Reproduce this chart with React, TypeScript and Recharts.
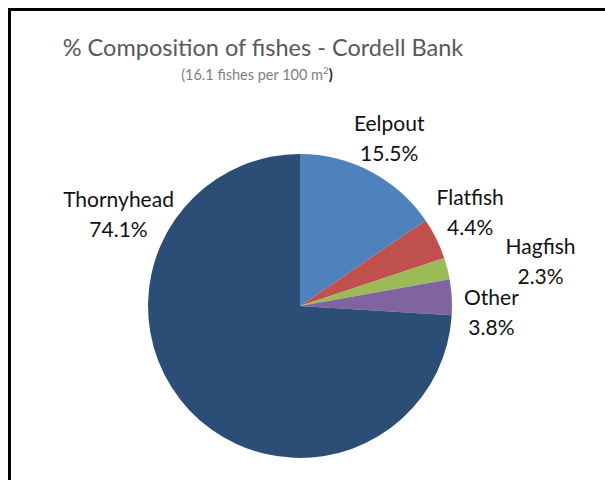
import React from 'react';
import { PieChart, Pie, Cell } from 'recharts';

const categories = ['Eelpout', 'Flatfish', 'Hagfish', 'Other', 'Thornyhead'];
const percents = [15.5, 4.4, 2.3, 3.8, 74.1];
const colors = ['#4F81BD', '#C0504D', '#9BBB59', '#8064A2', '#2C4D75'];
// label placement: polar angle (deg) and distance factor relative to outer radius
const labelAngles = [62, 29, 10.6, -1.8, 153];
const labelDist = [1.25, 1.28, 1.61, 1.26, 1.34];

const data = categories.map((name, i) => ({ name, value: percents[i] }));

const FONT = 'Lato, "Open Sans", sans-serif';

const renderLabel = (props: any) => {
  const { cx, cy, outerRadius, index } = props;
  const a = (labelAngles[index] * Math.PI) / 180;
  const r = outerRadius * labelDist[index];
  const x = cx + r * Math.cos(a);
  const y = cy - r * Math.sin(a);
  return (
    <text x={x} y={y} textAnchor="middle" fontFamily={FONT} fontSize={21} fill="#111">
      <tspan x={x} dy={-7}>{categories[index]}</tspan>
      <tspan x={x} dy={30}>{percents[index].toFixed(1)}%</tspan>
    </text>
  );
};

export default function App() {
  return (
    <div style={{ position: 'absolute', left: 0, top: 0, width: 605, height: 480, background: '#fff', overflow: 'hidden' }}>
      <div style={{ position: 'absolute', left: 8, top: 8, width: 700, height: 600, border: '3px solid #000', boxSizing: 'border-box' }} />
      <div style={{ position: 'absolute', left: 0, top: 0 }}>
        <PieChart width={605} height={480} margin={{ top: 0, right: 0, bottom: 0, left: 0 }}>
          <Pie
            data={data}
            dataKey="value"
            nameKey="name"
            cx={300}
            cy={306}
            outerRadius={152}
            startAngle={90}
            endAngle={-270}
            stroke="none"
            label={renderLabel}
            labelLine={false}
            isAnimationActive={false}
          >
            {data.map((d, i) => (
              <Cell key={d.name} fill={colors[i]} />
            ))}
          </Pie>
        </PieChart>
      </div>
      <svg width={605} height={480} style={{ position: 'absolute', left: 0, top: 0, pointerEvents: 'none' }}>
        <text x={263} y={56} textAnchor="middle" fontFamily={FONT} fontSize={23.5} fill="#595959">
          % Composition of fishes - Cordell Bank
        </text>
        <text x={257} y={80} textAnchor="middle" fontFamily={FONT} fontSize={14.5} fill="#7F7F7F">
          (16.1 fishes per 100 m
          <tspan fontSize={10} dy={-6}>2</tspan>
          <tspan dy={6} fill="#222" fontWeight="bold">)</tspan>
        </text>
      </svg>
    </div>
  );
}
